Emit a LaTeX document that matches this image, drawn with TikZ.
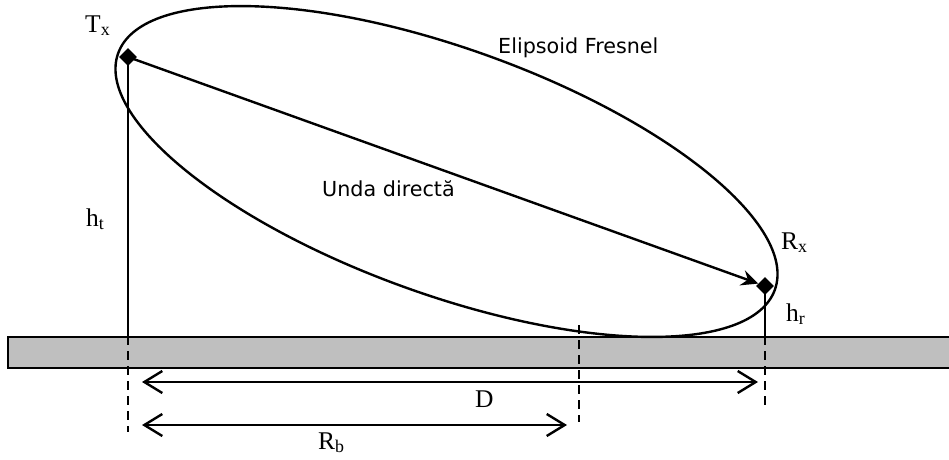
\documentclass[tikz,border=0pt]{standalone}
\usepackage{fontspec}
\setmainfont{Liberation Serif}
\newfontfamily\fresnelfont{DejaVu Sans}
\usetikzlibrary{arrows.meta,positioning,calc,shapes.geometric}

\begin{document}
\begin{tikzpicture}[
  x=1pt, y=-1pt,
  station/.style={diamond, fill=black, inner sep=0pt, minimum size=18pt},
  ground/.style={draw, fill=black!25, line width=1.6pt, inner sep=0pt,
    minimum width=960pt, minimum height=31pt},
  fresnel/.style={draw, ellipse, inner sep=0pt, line width=2.4pt,
    minimum width=698pt, minimum height=246pt},
  mast/.style={line width=2.2pt},
  guide/.style={line width=2.2pt, dash pattern=on 9pt off 6pt},
  dim/.style={{Straight Barb[length=18pt,width=22pt]}-{Straight Barb[length=18pt,width=22pt]},
    line width=2.4pt},
  ray/.style={-{Stealth[length=17pt,width=16pt,inset=6pt]}, line width=2.4pt},
  lbl/.style={inner sep=0pt, anchor=base west, font=\fontsize{25.5}{30}\selectfont},
  note/.style={inner sep=0pt, anchor=base west, font=\fresnelfont\fontsize{20.7}{25}\selectfont}
]
\useasboundingbox (0,0) rectangle (949,459);

% ground
\node[ground] (ground) at (488,352.5) {};

% antennas
\node[station] (tx) at (128,57) {};
\node[station] (rx) at (765,286) {};

% Fresnel ellipsoid
\node[fresnel, rotate=-19.8] (fresnel) at ($(tx)!0.5!(rx)$) {};

% masts and guides
\coordinate (txfoot) at (tx |- ground.north);
\coordinate (rxfoot) at (rx |- ground.north);
\coordinate (txend) at (128,432);
\coordinate (rxend) at (765,405);
\coordinate (rbtop) at (579,325);
\coordinate (rbend) at (579,422);
\draw[mast] (tx.center) -- (txfoot);
\draw[mast] (rx.center) -- (rxfoot);
\draw[guide] (txfoot) -- (txend);
\draw[guide] (rxfoot) -- (rxend);
\draw[guide] (rbtop) -- (rbend);

% direct wave
\draw[ray] (tx.center) -- (rx);

% distances
\coordinate (dleft) at (142,382);
\coordinate (dright) at (758,382);
\coordinate (rbleft) at (142,425);
\coordinate (rbright) at (567,425);
\draw[dim] (dleft) -- (dright);
\draw[dim] (rbleft) -- (rbright);

% labels
\node[lbl] (txlabel) at (85,32) {T\textsubscript{x}};
\node[lbl] (rxlabel) at (781,249) {R\textsubscript{x}};
\node[lbl] (htlabel) at (86,226) {h\textsubscript{t}};
\node[lbl] (hrlabel) at (786,321) {h\textsubscript{r}};
\node[lbl] (dlabel) at (475,407) {D};
\node[lbl] (rblabel) at (318,449) {R\textsubscript{b}};
\node[note] (fresnellabel) at (498,53) {Elipsoid Fresnel};
\node[note] (raylabel) at (322,196) {Unda directă};

\end{tikzpicture}
\end{document}
